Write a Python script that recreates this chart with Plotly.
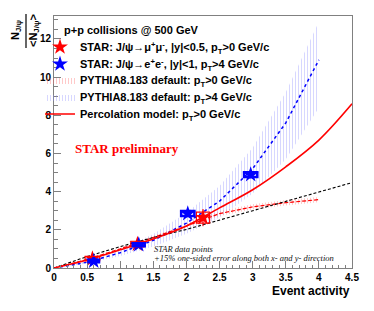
import plotly.graph_objects as go

# ---- data ----
mu_x = [0.58, 1.26, 2.25]
mu_y = [0.49, 1.25, 2.64]
mu_xsys = [0.11, 0.10, 0.10]
mu_ysys = [0.12, 0.15, 0.29]
mu_yerr = [0.06, 0.10, 0.45]

ee_x = [0.60, 1.28, 2.02, 2.97]
ee_y = [0.36, 1.22, 2.85, 4.89]
ee_xsys = [0.08, 0.09, 0.10, 0.10]
ee_ysys = [0.06, 0.08, 0.13, 0.12]
ee_yerr = [0.08, 0.10, 0.15, 0.20]

py0_x = [0.0, 0.5, 1.0, 1.5, 2.0, 2.5, 3.0, 3.5, 4.0]
py0_y = [0.0, 0.45, 1.0, 1.6, 2.2, 2.85, 3.2, 3.42, 3.58]
py0_lo = [0.0, 0.42, 0.95, 1.52, 2.09, 2.72, 3.06, 3.28, 3.44]
py0_hi = [0.0, 0.48, 1.05, 1.68, 2.31, 2.98, 3.34, 3.56, 3.72]

py4_x = [0.0, 0.5, 1.0, 1.5, 2.0, 2.5, 3.0, 3.5, 4.0]
py4_y = [0.0, 0.3, 0.8, 1.45, 2.35, 3.5, 5.2, 7.6, 10.9]
py4_lo = [0.0, 0.24, 0.63, 1.12, 1.8, 2.65, 3.9, 5.7, 8.4]
py4_hi = [0.0, 0.37, 0.98, 1.78, 2.9, 4.3, 6.3, 9.2, 12.9]

perc_x = [0.0, 0.5, 1.0, 1.5, 2.0, 2.5, 3.0, 3.5, 4.0, 4.5]
perc_y = [0.0, 0.42, 0.95, 1.52, 2.2, 3.15, 4.1, 5.3, 6.7, 8.6]

line_x = [0.0, 0.5, 1.0, 1.5, 2.0, 2.5, 3.0, 3.5, 4.0, 4.5]
line_y = [0.0, 0.6, 1.12, 1.6, 2.02, 2.5, 3.0, 3.5, 3.98, 4.47]

x_range = [0, 4.5]
y_range = [0, 13.2]

# ---- layout geometry (reference pixels; page body adds an 8px offset) ----
OFF = 8
W, H = 374 - OFF, 311 - OFF
L, R, T, B = 54 - OFF, 22, 16 - OFF, 43
PW, PH = W - L - R, H - T - B


def px_x(p):
    return (p - OFF - L) / PW


def px_y(p):
    return (H - B - (p - OFF)) / PH


FONT = "Liberation Sans, Arial, sans-serif"
SERIF = "Liberation Serif, Times New Roman, serif"

fig = go.Figure()

# PYTHIA bands
fig.add_trace(go.Scatter(
    x=py4_x + py4_x[::-1], y=py4_hi + py4_lo[::-1], fill="toself", mode="lines",
    line=dict(width=0, color="rgba(120,120,255,0.7)"),
    fillcolor="rgba(0,0,0,0)",
    fillpattern=dict(shape="|", fgcolor="rgba(140,140,255,0.7)", bgcolor="rgba(255,255,255,0)",
                     size=3, solidity=0.35),
    name="PYTHIA8.183 default: p<sub>T</sub>>4 GeV/c", legend="legend4", hoverinfo="skip"))
fig.add_trace(go.Scatter(
    x=py0_x + py0_x[::-1], y=py0_hi + py0_lo[::-1], fill="toself", mode="lines",
    line=dict(width=0, color="rgba(255,120,120,0.7)"),
    fillcolor="rgba(0,0,0,0)",
    fillpattern=dict(shape="|", fgcolor="rgba(255,110,110,0.75)", bgcolor="rgba(255,255,255,0)",
                     size=3, solidity=0.35),
    name="PYTHIA8.183 default: p<sub>T</sub>>0 GeV/c", legend="legend3", hoverinfo="skip"))

# central lines
fig.add_trace(go.Scatter(x=py4_x, y=py4_y, mode="lines",
                         line=dict(color="blue", width=1.5, dash="dot"), showlegend=False))
fig.add_trace(go.Scatter(x=py0_x, y=py0_y, mode="lines",
                         line=dict(color="red", width=1.2, dash="4px,2px"), showlegend=False))
fig.add_trace(go.Scatter(x=line_x, y=line_y, mode="lines",
                         line=dict(color="black", width=1.1, dash="3px,2px"), showlegend=False))
fig.add_trace(go.Scatter(x=perc_x, y=perc_y, mode="lines", line_shape="spline",
                         line=dict(color="red", width=1.6),
                         name="Percolation model: p<sub>T</sub>>0 GeV/c", legend="legend5"))

# systematic boxes
for xs, ys, dx, dy, col, w in [(mu_x, mu_y, mu_xsys, mu_ysys, "red", 1.2),
                              (ee_x, ee_y, ee_xsys, ee_ysys, "blue", 2.5)]:
    for xi, yi, dxi, dyi in zip(xs, ys, dx, dy):
        fig.add_shape(type="rect", xref="x", yref="y", x0=xi - dxi, x1=xi + dxi,
                      y0=yi - dyi, y1=yi + dyi, line=dict(color=col, width=w),
                      fillcolor="rgba(0,0,0,0)")

# data points
fig.add_trace(go.Scatter(x=mu_x, y=mu_y, mode="markers",
                         error_y=dict(type="data", array=mu_yerr, color="red", thickness=1, width=0),
                         marker=dict(symbol="star", size=12, color="red", line=dict(width=0)),
                         name="STAR: J/ψ→μ<sup>+</sup>μ<sup>-</sup>, |y|<0.5, p<sub>T</sub>>0 GeV/c",
                         legend="legend"))
fig.add_trace(go.Scatter(x=ee_x, y=ee_y, mode="markers",
                         error_y=dict(type="data", array=ee_yerr, color="blue", thickness=1, width=0),
                         marker=dict(symbol="star", size=12, color="blue", line=dict(width=0)),
                         name="STAR: J/ψ→e<sup>+</sup>e<sup>-</sup>, |y|<1, p<sub>T</sub>>4 GeV/c",
                         legend="legend2"))

axis_common = dict(showgrid=False, zeroline=False, showline=True, linecolor="#808080",
                   linewidth=1, mirror=True, ticks="inside", ticklen=7, tickcolor="#808080",
                   tickfont=dict(family=FONT, size=10, color="black", weight="bold"))

fig.update_xaxes(range=x_range, dtick=0.5, tick0=0,
                 minor=dict(ticks="inside", ticklen=3.5, dtick=0.1, tickcolor="#808080"),
                 **axis_common)
fig.update_yaxes(range=y_range, dtick=2, tick0=0,
                 minor=dict(ticks="inside", ticklen=3.5, dtick=0.5, tickcolor="#808080"),
                 **axis_common)

ann = []
ann.append(dict(text="Event activity", x=px_x(352), y=px_y(291), xanchor="right", yanchor="middle",
                font=dict(family=FONT, size=12, weight="bold", color="black")))
ann.append(dict(text="p+p collisions @ 500 GeV", x=px_x(62), y=px_y(30), xanchor="left",
                yanchor="middle", font=dict(family=FONT, size=11, weight="bold", color="black")))
ann.append(dict(text="STAR preliminary", x=px_x(127), y=px_y(148), xanchor="center",
                yanchor="middle", font=dict(family=SERIF, size=13, weight="bold", color="red")))
ann.append(dict(text="<i>STAR data points</i>", x=px_x(152), y=px_y(249), xanchor="left",
                yanchor="middle", font=dict(family=SERIF, size=8.5, color="#111")))
ann.append(dict(text="<i>+15% one-sided error along both x- and y- direction</i>", x=px_x(152),
                y=px_y(258), xanchor="left", yanchor="middle",
                font=dict(family=SERIF, size=8.5, color="#111")))
# y title as fraction
ann.append(dict(text="N<sub>J/ψ</sub>", x=px_x(16), y=px_y(30), textangle=-90, xanchor="center",
                yanchor="middle", font=dict(family=FONT, size=11, weight="bold", color="black")))
ann.append(dict(text="&lt;N<sub>J/ψ</sub>&gt;", x=px_x(34), y=px_y(31), textangle=-90,
                xanchor="center", yanchor="middle",
                font=dict(family=FONT, size=11, weight="bold", color="black")))
for a in ann:
    a.update(xref="paper", yref="paper", showarrow=False)
fig.update_layout(annotations=ann)
fig.add_shape(type="line", xref="paper", yref="paper", x0=px_x(26), x1=px_x(26),
              y0=px_y(14), y1=px_y(48), line=dict(color="black", width=1.2))

legend_rows = [47, 64, 80, 97, 114]
legend_font = dict(family=FONT, size=11, weight="bold", color="black")
legs = {}
for i, yy in enumerate(legend_rows):
    key = "legend" if i == 0 else f"legend{i + 1}"
    legs[key] = dict(x=px_x(40), y=px_y(yy), xanchor="left", yanchor="middle",
                     bgcolor="rgba(0,0,0,0)", itemwidth=30, font=legend_font)

fig.update_layout(
    width=W, height=H, margin=dict(l=L, r=R, t=T, b=B, autoexpand=False),
    paper_bgcolor="white", plot_bgcolor="white",
    **legs,
)

fig.write_html("out.html")
